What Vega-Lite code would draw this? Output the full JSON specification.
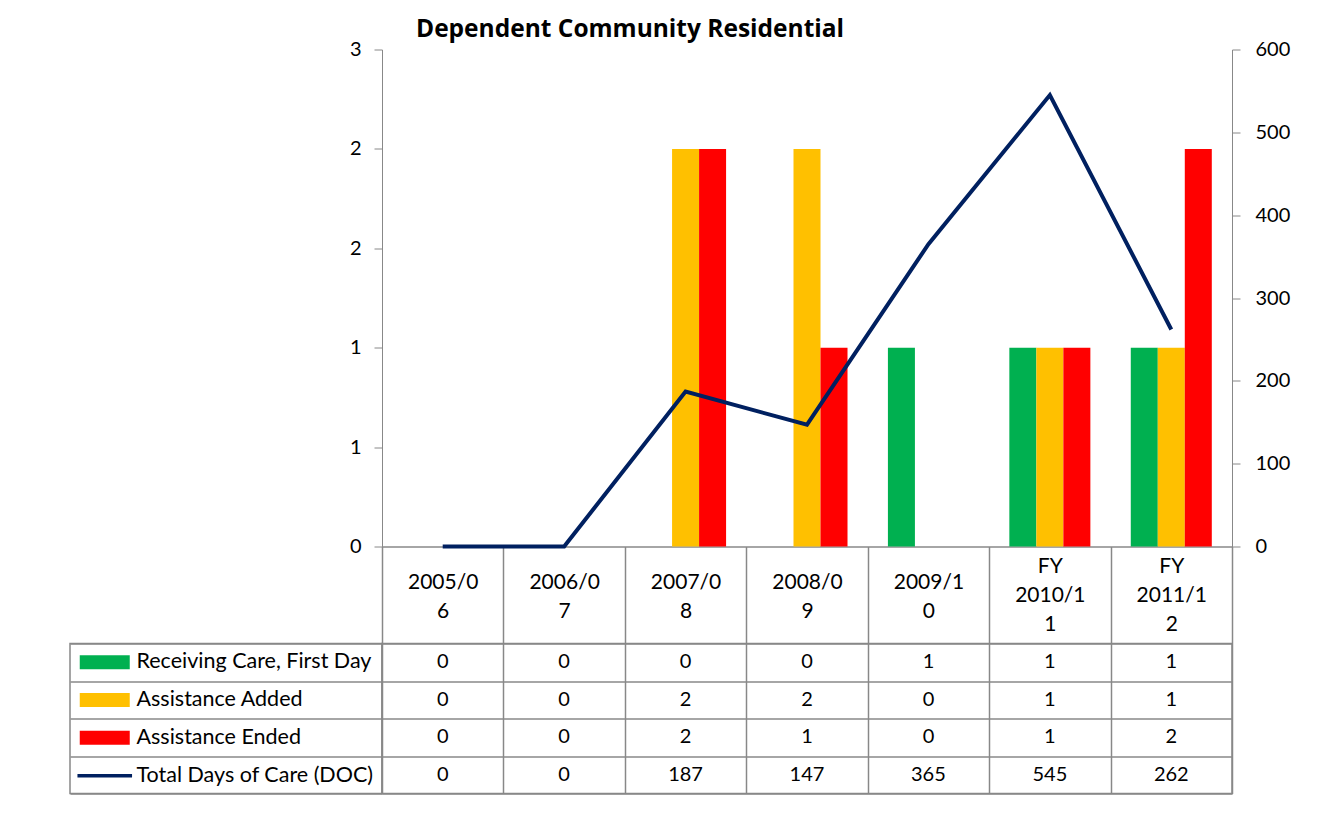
{
  "$schema": "https://vega.github.io/schema/vega-lite/v6.json",
  "background": "white",
  "padding": {"left": 69, "top": 16.5, "right": 10, "bottom": 10},
  "datasets": {
    "rows": [
      {"category": "2005/06", "series": "Receiving Care, First Day", "value": 0},
      {"category": "2005/06", "series": "Assistance Added", "value": 0},
      {"category": "2005/06", "series": "Assistance Ended", "value": 0},
      {"category": "2005/06", "series": "Total Days of Care (DOC)", "value": 0},
      {"category": "2006/07", "series": "Receiving Care, First Day", "value": 0},
      {"category": "2006/07", "series": "Assistance Added", "value": 0},
      {"category": "2006/07", "series": "Assistance Ended", "value": 0},
      {"category": "2006/07", "series": "Total Days of Care (DOC)", "value": 0},
      {"category": "2007/08", "series": "Receiving Care, First Day", "value": 0},
      {"category": "2007/08", "series": "Assistance Added", "value": 2},
      {"category": "2007/08", "series": "Assistance Ended", "value": 2},
      {"category": "2007/08", "series": "Total Days of Care (DOC)", "value": 187},
      {"category": "2008/09", "series": "Receiving Care, First Day", "value": 0},
      {"category": "2008/09", "series": "Assistance Added", "value": 2},
      {"category": "2008/09", "series": "Assistance Ended", "value": 1},
      {"category": "2008/09", "series": "Total Days of Care (DOC)", "value": 147},
      {"category": "2009/10", "series": "Receiving Care, First Day", "value": 1},
      {"category": "2009/10", "series": "Assistance Added", "value": 0},
      {"category": "2009/10", "series": "Assistance Ended", "value": 0},
      {"category": "2009/10", "series": "Total Days of Care (DOC)", "value": 365},
      {"category": "FY 2010/11", "series": "Receiving Care, First Day", "value": 1},
      {"category": "FY 2010/11", "series": "Assistance Added", "value": 1},
      {"category": "FY 2010/11", "series": "Assistance Ended", "value": 1},
      {"category": "FY 2010/11", "series": "Total Days of Care (DOC)", "value": 545},
      {"category": "FY 2011/12", "series": "Receiving Care, First Day", "value": 1},
      {"category": "FY 2011/12", "series": "Assistance Added", "value": 1},
      {"category": "FY 2011/12", "series": "Assistance Ended", "value": 2},
      {"category": "FY 2011/12", "series": "Total Days of Care (DOC)", "value": 262}
    ]
  },
  "data": {"name": "rows"},
  "columns": 2,
  "spacing": {"row": 97, "column": 0},
  "bounds": "flush",
  "concat": [
    {
      "width": 312,
      "height": 497,
      "view": {"stroke": null},
      "mark": {"type": "text"},
      "encoding": {"text": {"value": ""}}
    },
    {
      "width": 850,
      "height": 497,
      "view": {"stroke": null},
      "title": {
        "text": "Dependent Community Residential",
        "anchor": "start",
        "frame": "group",
        "dx": 34,
        "offset": -22,
        "baseline": "alphabetic",
        "font": "Open Sans",
        "fontSize": 24.5,
        "fontWeight": "bold",
        "color": "#000000"
      },
      "layer": [
        {
          "transform": [{"filter": "datum.series !== 'Total Days of Care (DOC)'"}],
          "mark": {"type": "bar"},
          "encoding": {
            "x": {
              "field": "category",
              "type": "nominal",
              "sort": ["2005/06", "2006/07", "2007/08", "2008/09", "2009/10", "FY 2010/11", "FY 2011/12"],
              "scale": {"paddingInner": 0, "paddingOuter": 0},
              "axis": {
                "title": null,
                "orient": "bottom",
                "labelAngle": 0,
                "tickBand": "extent",
                "tickSize": 97,
                "tickColor": "#888888",
                "tickWidth": 1.5,
                "domainColor": "#888888",
                "domainWidth": 1.5,
                "labelPadding": -61,
                "labelBaseline": "middle",
                "labelLineHeight": 29,
                "labelFontSize": 21,
                "labelExpr": "indexof(datum.label, 'FY') === 0 ? '' : [slice(datum.label, 0, 6), slice(datum.label, 6)]"
              }
            },
            "xOffset": {
              "field": "series",
              "type": "nominal",
              "scale": {
                "domain": ["Receiving Care, First Day", "Assistance Added", "Assistance Ended"],
                "paddingInner": 0,
                "paddingOuter": 0.748
              }
            },
            "y": {
              "field": "value",
              "type": "quantitative",
              "scale": {"domain": [0, 2.5], "nice": false, "zero": true},
              "axis": {
                "title": null,
                "orient": "left",
                "values": [0, 0.5, 1, 1.5, 2, 2.5],
                "labelExpr": "format(datum.value, '.0f')",
                "grid": false,
                "tickSize": 8,
                "labelPadding": 13,
                "domainColor": "#888888",
                "tickColor": "#888888"
              }
            },
            "color": {
              "field": "series",
              "type": "nominal",
              "scale": {
                "domain": ["Receiving Care, First Day", "Assistance Added", "Assistance Ended", "Total Days of Care (DOC)"],
                "range": ["#00B050", "#FFC000", "#FF0000", "#002060"]
              },
              "legend": {
                "title": null,
                "orient": "none",
                "legendX": 24,
                "legendY": 602,
                "direction": "vertical",
                "symbolType": "M-3.571,-1H3.571V1H-3.571Z",
                "symbolSize": 196,
                "symbolStrokeWidth": 0,
                "labelFont": "Lato",
                "labelFontSize": 21.5,
                "labelColor": "#000000",
                "labelOffset": 21,
                "rowPadding": 14.8,
                "labelLimit": 400,
                "encode": {
                  "symbols": {
                    "update": {
                      "shape": {"signal": "datum.value === 'Total Days of Care (DOC)' ? 'M-3.9,-0.25H3.9V0.25H-3.9Z' : 'M-3.571,-1H3.571V1H-3.571Z'"},
                      "fill": {"signal": "scale('color', datum.value)"},
                      "stroke": {"value": "transparent"},
                      "opacity": {"value": 1},
                      "fillOpacity": {"value": 1}
                    }
                  }
                }
              }
            }
          }
        },
        {
          "transform": [{"filter": "datum.series === 'Total Days of Care (DOC)'"}],
          "mark": {"type": "line", "strokeWidth": 4},
          "encoding": {
            "x": {
              "field": "category",
              "type": "nominal",
              "sort": ["2005/06", "2006/07", "2007/08", "2008/09", "2009/10", "FY 2010/11", "FY 2011/12"],
              "axis": {
                "title": null,
                "orient": "bottom",
                "labelAngle": 0,
                "domain": false,
                "tickBand": "extent",
                "tickSize": 97,
                "tickOpacity": 0,
                "labelPadding": -77.5,
                "labelBaseline": "middle",
                "labelLineHeight": 29,
                "labelFontSize": 21,
                "labelExpr": "indexof(datum.label, 'FY') === 0 ? ['FY', slice(datum.label, 3, 9), slice(datum.label, 9)] : ''"
              }
            },
            "y": {
              "field": "value",
              "type": "quantitative",
              "scale": {"domain": [0, 600], "nice": false},
              "axis": {
                "title": null,
                "orient": "right",
                "values": [0, 100, 200, 300, 400, 500, 600],
                "grid": false,
                "tickSize": 8,
                "labelPadding": 15,
                "domainColor": "#888888",
                "tickColor": "#888888"
              }
            },
            "color": {"field": "series", "type": "nominal"}
          }
        }
      ],
      "resolve": {"scale": {"y": "independent"}, "axis": {"x": "independent"}}
    },
    {
      "width": 312,
      "height": 150,
      "view": {"stroke": "#888888", "strokeWidth": 1.5},
      "mark": {"type": "text"},
      "encoding": {
        "y": {
          "field": "series",
          "type": "nominal",
          "sort": ["Receiving Care, First Day", "Assistance Added", "Assistance Ended", "Total Days of Care (DOC)"],
          "scale": {"paddingInner": 0, "paddingOuter": 0},
          "axis": {
            "title": null,
            "labels": false,
            "ticks": false,
            "domain": false,
            "grid": true,
            "tickBand": "extent",
            "gridColor": "#888888",
            "gridWidth": 1.5,
            "gridOpacity": 1
          }
        },
        "text": {"value": ""}
      }
    },
    {
      "width": 850,
      "height": 150,
      "view": {"stroke": "#888888", "strokeWidth": 1.5},
      "mark": {"type": "text", "font": "Lato", "fontSize": 20, "baseline": "middle", "color": "#000000"},
      "encoding": {
        "x": {
          "field": "category",
          "type": "nominal",
          "sort": ["2005/06", "2006/07", "2007/08", "2008/09", "2009/10", "FY 2010/11", "FY 2011/12"],
          "scale": {"paddingInner": 0, "paddingOuter": 0},
          "axis": {
            "title": null,
            "labels": false,
            "ticks": false,
            "domain": false,
            "grid": true,
            "tickBand": "extent",
            "gridColor": "#888888",
            "gridWidth": 1.5,
            "gridOpacity": 1
          }
        },
        "y": {
          "field": "series",
          "type": "nominal",
          "sort": ["Receiving Care, First Day", "Assistance Added", "Assistance Ended", "Total Days of Care (DOC)"],
          "scale": {"paddingInner": 0, "paddingOuter": 0},
          "axis": {
            "title": null,
            "labels": false,
            "ticks": false,
            "domain": false,
            "grid": true,
            "tickBand": "extent",
            "gridColor": "#888888",
            "gridWidth": 1.5,
            "gridOpacity": 1
          }
        },
        "text": {"field": "value", "type": "quantitative", "format": "d"}
      }
    }
  ],
  "config": {
    "font": "Lato",
    "axis": {
      "labelFont": "Lato",
      "labelFontSize": 20,
      "labelColor": "#000000"
    },
    "legend": {"padding": 0}
  }
}
